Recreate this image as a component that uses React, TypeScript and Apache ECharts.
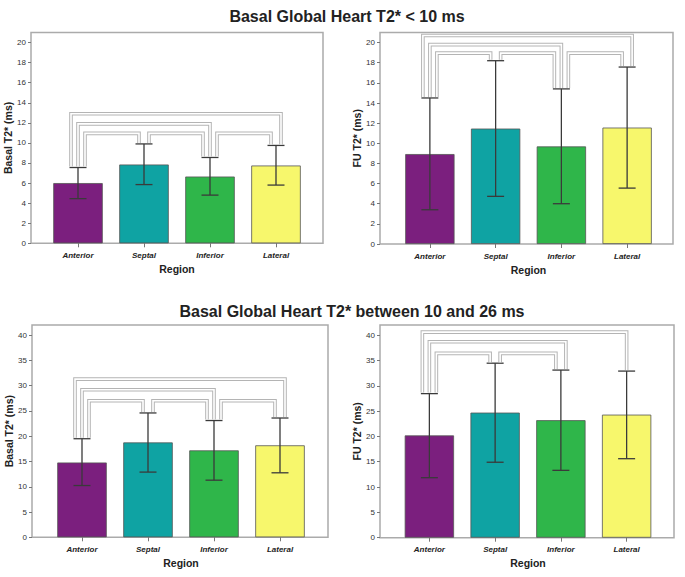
import React, { useEffect, useRef } from 'react';
import * as echarts from 'echarts';

// ---------- data ----------
const categories = ['Anterior', 'Septal', 'Inferior', 'Lateral'];
const barColors = ['#7b1f7e', '#0fa3a3', '#2fb64a', '#f7f76c'];

const titleLow = 'Basal Global Heart T2* < 10 ms';
const titleMid = 'Basal Global Heart T2* between 10 and 26 ms';

const ticksLow = [0, 2, 4, 6, 8, 10, 12, 14, 16, 18, 20];
const ticksMid = [0, 5, 10, 15, 20, 25, 30, 35, 40];

// Group T2* < 10 ms, basal
const lowBasalMean = [6.0, 7.85, 6.65, 7.75];
const lowBasalErrLow = [4.45, 5.85, 4.8, 5.8];
const lowBasalErrHigh = [7.55, 9.9, 8.55, 9.75];
// [from, to, level]
const lowBasalBrackets = [[0, 1, 10.95], [1, 2, 10.95], [2, 3, 10.95], [0, 2, 11.9], [0, 3, 12.9]];

// Group T2* < 10 ms, follow-up
const lowFuMean = [8.93, 11.46, 9.69, 11.56];
const lowFuErrLow = [3.4, 4.73, 4.0, 5.55];
const lowFuErrHigh = [14.5, 18.2, 15.4, 17.57];
const lowFuBrackets = [[0, 1, 18.95], [1, 2, 18.95], [2, 3, 18.95], [0, 2, 19.8], [0, 3, 20.7]];

// Group T2* 10-26 ms, basal
const midBasalMean = [14.8, 18.77, 17.2, 18.2];
const midBasalErrLow = [10.24, 12.9, 11.3, 12.76];
const midBasalErrHigh = [19.5, 24.6, 23.1, 23.6];
const midBasalBrackets = [[0, 1, 27.0], [1, 2, 27.0], [2, 3, 27.0], [0, 2, 29.2], [0, 3, 31.3]];

// Group T2* 10-26 ms, follow-up
const midFuMean = [20.2, 24.7, 23.2, 24.3];
const midFuErrLow = [11.85, 14.9, 13.3, 15.6];
const midFuErrHigh = [28.45, 34.46, 33.1, 32.9];
const midFuBrackets = [[0, 1, 36.4], [1, 2, 36.4], [0, 2, 38.7], [0, 3, 40.6]];

const panels = [
  { mean: lowBasalMean, lo: lowBasalErrLow, hi: lowBasalErrHigh, brackets: lowBasalBrackets, yName: 'Basal T2* (ms)', yMax: 21, step: 2, ticks: ticksLow },
  { mean: lowFuMean, lo: lowFuErrLow, hi: lowFuErrHigh, brackets: lowFuBrackets, yName: 'FU T2* (ms)', yMax: 21, step: 2, ticks: ticksLow },
  { mean: midBasalMean, lo: midBasalErrLow, hi: midBasalErrHigh, brackets: midBasalBrackets, yName: 'Basal T2* (ms)', yMax: 42, step: 5, ticks: ticksMid },
  { mean: midFuMean, lo: midFuErrLow, hi: midFuErrHigh, brackets: midFuBrackets, yName: 'FU T2* (ms)', yMax: 42, step: 5, ticks: ticksMid },
];

// ---------- layout ----------
const layouts = [
  { frameL: 31, frameR: 323, top: 32.5, bottom: 243.3, axisL: 45, axisR: 309 },
  { frameL: 380, frameR: 673, top: 32.5, bottom: 244, axisL: 397, axisR: 660 },
  { frameL: 32, frameR: 328, top: 325, bottom: 537.3, axisL: 49, axisR: 313 },
  { frameL: 380, frameR: 674, top: 325, bottom: 537.7, axisL: 396.5, axisR: 659.5 },
];

const FONT = "'Liberation Sans', Arial, Helvetica, sans-serif";

function bracketGeometry(brackets: number[][], hi: number[]) {
  const ends: Record<number, { b: number; side: string; span: number }[]> = {};
  brackets.forEach(([f, t], b) => {
    const span = t - f;
    (ends[f] = ends[f] || []).push({ b, side: 'L', span });
    (ends[t] = ends[t] || []).push({ b, side: 'R', span });
  });
  const off: Record<string, number> = {};
  Object.keys(ends).forEach((k) => {
    const list = ends[Number(k)];
    const rights = list.filter((e) => e.side === 'R').sort((a, b) => a.span - b.span);
    const lefts = list.filter((e) => e.side === 'L').sort((a, b) => b.span - a.span);
    const ordered = [...rights, ...lefts];
    const n = ordered.length;
    const w = n === 1 ? 0 : n === 2 ? 10 : 14;
    ordered.forEach((e, i) => {
      off[e.b + e.side] = n === 1 ? 0 : -w / 2 + (i * w) / (n - 1);
    });
  });
  return brackets.map(([f, t, lvl], b) => ({
    f, t, lvl, fOff: off[b + 'L'], tOff: off[b + 'R'], fBot: hi[f], tBot: hi[t],
  }));
}

function buildOption() {
  const grid: any[] = [];
  const xAxis: any[] = [];
  const yAxis: any[] = [];
  const series: any[] = [];
  const graphic: any[] = [];

  panels.forEach((p, i) => {
    const L = layouts[i];
    grid.push({ left: L.axisL, top: L.top, width: L.axisR - L.axisL, height: L.bottom - L.top, containLabel: false });
    xAxis.push({
      type: 'category', gridIndex: i, data: categories,
      name: 'Region', nameLocation: 'middle', nameGap: 20,
      nameTextStyle: { fontFamily: FONT, fontWeight: 'bold', fontSize: 10.5, color: '#222' },
      axisLine: { show: false },
      axisTick: { show: true, alignWithLabel: true, length: 4, lineStyle: { color: '#777' } },
      axisLabel: { fontFamily: FONT, fontStyle: 'italic', fontWeight: 'bold', fontSize: 8, color: '#222', margin: 8 },
    });
    yAxis.push({
      type: 'value', gridIndex: i, min: 0, max: p.yMax, interval: p.step,
      offset: L.axisL - L.frameL,
      name: p.yName, nameLocation: 'middle', nameGap: 17,
      nameTextStyle: { fontFamily: FONT, fontWeight: 'bold', fontSize: 10.5, color: '#222' },
      axisLine: { show: false },
      axisTick: { show: true, length: 3, customValues: p.ticks, lineStyle: { color: '#777' } },
      axisLabel: {
        fontFamily: FONT, fontSize: 8, color: '#333', margin: 5, customValues: p.ticks,
        formatter: (v: number) => (p.ticks.indexOf(v) >= 0 ? String(v) : ''),
      },
      splitLine: { show: false },
    });

    graphic.push({
      type: 'rect', z: 0,
      shape: { x: L.frameL, y: L.top, width: L.frameR - L.frameL, height: L.bottom - L.top },
      style: { fill: 'none', stroke: '#ababab', lineWidth: 1.5 },
    });

    series.push({
      type: 'bar', xAxisIndex: i, yAxisIndex: i, barWidth: '75%', z: 2,
      data: p.mean.map((v, k) => ({ value: v, itemStyle: { color: barColors[k], borderColor: '#555', borderWidth: 0.8 } })),
    });

    series.push({
      type: 'custom', xAxisIndex: i, yAxisIndex: i, z: 3,
      data: p.mean.map((_, k) => [k, p.lo[k], p.hi[k]]),
      renderItem: (params: any, api: any) => {
        const x = api.value(0);
        const a = api.coord([x, api.value(1)]);
        const b = api.coord([x, api.value(2)]);
        const hw = 8.5;
        const st = { stroke: '#3a3a3a', lineWidth: 1.3 };
        return {
          type: 'group',
          children: [
            { type: 'line', shape: { x1: a[0], y1: a[1], x2: b[0], y2: b[1] }, style: st },
            { type: 'line', shape: { x1: a[0] - hw, y1: a[1], x2: a[0] + hw, y2: a[1] }, style: st },
            { type: 'line', shape: { x1: b[0] - hw, y1: b[1], x2: b[0] + hw, y2: b[1] }, style: st },
          ],
        };
      },
    });

    const geom = bracketGeometry(p.brackets, p.hi);
    const mk = (stroke: string, lw: number, z: number) => ({
      type: 'custom', xAxisIndex: i, yAxisIndex: i, z,
      data: p.brackets.map((b) => [b[0], b[2], b[1]]),
      renderItem: (params: any, api: any) => {
        const g = geom[params.dataIndex];
        const a = api.coord([g.f, g.fBot]);
        const b = api.coord([g.f, g.lvl]);
        const c = api.coord([g.t, g.lvl]);
        const d = api.coord([g.t, g.tBot]);
        const points = [
          [a[0] + g.fOff, a[1] - 1],
          [b[0] + g.fOff, b[1]],
          [c[0] + g.tOff, c[1]],
          [d[0] + g.tOff, d[1] - 1],
        ];
        return { type: 'polyline', shape: { points }, style: { stroke, lineWidth: lw, fill: null, lineJoin: 'miter' } };
      },
    });
    series.push(mk('#b4b4b4', 3.6, 4));
    series.push(mk('#ffffff', 1.6, 5));
  });

  graphic.push({
    type: 'text', x: 347, y: 16,
    style: { text: titleLow, font: `bold 16px ${FONT}`, fill: '#222', textAlign: 'center', textVerticalAlign: 'middle' },
  });
  graphic.push({
    type: 'text', x: 352, y: 311.5,
    style: { text: titleMid, font: `bold 16px ${FONT}`, fill: '#222', textAlign: 'center', textVerticalAlign: 'middle' },
  });

  return { animation: false, backgroundColor: '#ffffff', grid, xAxis, yAxis, series, graphic };
}

export default function App() {
  const ref = useRef<HTMLDivElement>(null);
  useEffect(() => {
    if (!ref.current) return;
    const chart = echarts.init(ref.current, undefined, { renderer: 'svg' });
    chart.setOption(buildOption() as any);
    return () => chart.dispose();
  }, []);
  return <div ref={ref} style={{ position: 'fixed', left: 0, top: 0, width: 685, height: 577 }} />;
}
